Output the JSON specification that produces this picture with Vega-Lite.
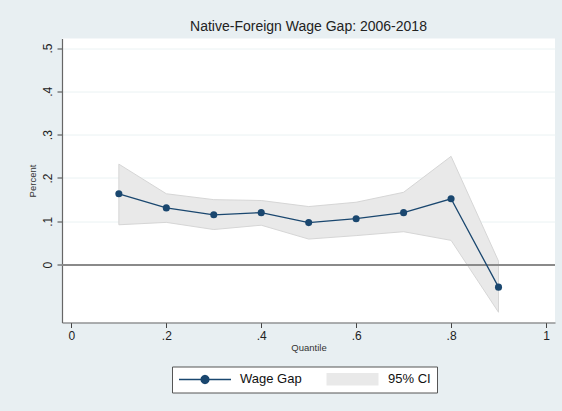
{
  "$schema": "https://vega.github.io/schema/vega-lite/v6.json",
  "width": 493,
  "height": 284,
  "autosize": "none",
  "padding": {"left": 62, "top": 38.5, "right": 7, "bottom": 88.5},
  "background": "#e8eff2",
  "title": {
    "text": "Native-Foreign Wage Gap: 2006-2018",
    "font": "Liberation Sans",
    "fontSize": 14,
    "fontWeight": "normal",
    "color": "#222222",
    "anchor": "middle",
    "offset": 5
  },
  "config": {
    "view": {"fill": "white", "stroke": null},
    "font": "Liberation Sans",
    "axis": {
      "labelFont": "Liberation Sans",
      "labelFontSize": 12,
      "labelColor": "#222222",
      "titleFont": "Liberation Sans",
      "titleFontSize": 9.5,
      "titleFontWeight": "normal",
      "titleColor": "#333333",
      "domainColor": "#666666",
      "domainWidth": 1.2,
      "tickColor": "#444444",
      "tickSize": 5,
      "tickWidth": 1
    }
  },
  "data": {
    "values": [
      {"q": 0.1, "est": 0.1636, "lo": 0.092, "hi": 0.232},
      {"q": 0.2, "est": 0.131, "lo": 0.0975, "hi": 0.1636},
      {"q": 0.3, "est": 0.115, "lo": 0.081, "hi": 0.150},
      {"q": 0.4, "est": 0.120, "lo": 0.091, "hi": 0.148},
      {"q": 0.5, "est": 0.097, "lo": 0.059, "hi": 0.134},
      {"q": 0.6, "est": 0.106, "lo": 0.067, "hi": 0.144},
      {"q": 0.7, "est": 0.120, "lo": 0.076, "hi": 0.167},
      {"q": 0.8, "est": 0.152, "lo": 0.056, "hi": 0.250},
      {"q": 0.9, "est": -0.052, "lo": -0.110, "hi": 0.008}
    ]
  },
  "layer": [
    {
      "mark": {"type": "area", "stroke": "#d6d6d6", "strokeWidth": 1, "opacity": 1},
      "encoding": {
        "x": {
          "field": "q",
          "type": "quantitative",
          "scale": {"domain": [-0.0198, 1.019], "nice": false, "zero": false},
          "axis": {
            "title": "Quantile",
            "values": [0, 0.2, 0.4, 0.6, 0.8, 1],
            "labelExpr": "datum.value == 0 ? '0' : datum.value == 1 ? '1' : replace(format(datum.value, '.1f'), '0.', '.')",
            "grid": false,
            "labelPadding": 3,
            "titlePadding": 1
          }
        },
        "y": {
          "field": "lo",
          "type": "quantitative",
          "scale": {"domain": [-0.1336, 0.522], "nice": false, "zero": false},
          "axis": {
            "title": "Percent",
            "values": [0, 0.1, 0.2, 0.3, 0.4, 0.5],
            "labelExpr": "datum.value == 0 ? '0' : replace(format(datum.value, '.1f'), '0.', '.')",
            "labelAngle": 270,
            "labelAlign": "center",
            "labelBaseline": "bottom",
            "labelPadding": 3,
            "titlePadding": 4,
            "grid": true,
            "gridColor": "#eaf2f3",
            "gridWidth": 1
          }
        },
        "y2": {"field": "hi"},
        "fill": {
          "datum": "95% CI",
          "scale": {"domain": ["Wage Gap", "95% CI"], "range": ["#ffffff", "#e9e9e9"]},
          "legend": {
            "title": null,
            "orient": "none",
            "legendX": 110,
            "legendY": 328,
            "direction": "horizontal",
            "columns": 2,
            "columnPadding": 24,
            "padding": 6,
            "strokeColor": "#555555",
            "fillColor": "white",
            "cornerRadius": 0,
            "labelFont": "Liberation Sans",
            "labelFontSize": 13,
            "labelColor": "#111111",
            "labelOffset": 49,
            "symbolType": "M-1,-1.04L7.667,-1.04L7.667,1.04L-1,1.04Z",
            "symbolSize": 144,
            "symbolStrokeWidth": 0,
            "symbolOpacity": 1
          }
        }
      }
    },
    {
      "mark": {"type": "rule", "color": "#8a8a8a", "strokeWidth": 1.5},
      "encoding": {"y": {"datum": 0, "type": "quantitative"}}
    },
    {
      "mark": {"type": "line", "strokeWidth": 1.3},
      "encoding": {
        "x": {"field": "q", "type": "quantitative"},
        "y": {"field": "est", "type": "quantitative"},
        "color": {
          "datum": "Wage Gap",
          "scale": {"domain": ["Wage Gap"], "range": ["#1a476f"]},
          "legend": {
            "title": null,
            "orient": "none",
            "legendX": 116,
            "legendY": 334,
            "padding": 0,
            "labelFont": "Liberation Sans",
            "labelFontSize": 13,
            "labelColor": "rgba(0,0,0,0)",
            "labelOffset": 49,
            "symbolType": "M-1,0L7.667,0M4,0L3.91,0.333L3.667,0.577L3.333,0.667L3,0.577L2.756,0.333L2.667,0L2.756,-0.333L3,-0.577L3.333,-0.667L3.667,-0.577L3.91,-0.333Z",
            "symbolSize": 144,
            "symbolFillColor": "#1a476f",
            "symbolStrokeColor": "#1a476f",
            "symbolStrokeWidth": 1.3,
            "symbolOpacity": 1
          }
        }
      }
    },
    {
      "mark": {"type": "point", "filled": true, "size": 50, "opacity": 1},
      "encoding": {
        "x": {"field": "q", "type": "quantitative"},
        "y": {"field": "est", "type": "quantitative"},
        "color": {"datum": "Wage Gap"}
      }
    }
  ]
}
